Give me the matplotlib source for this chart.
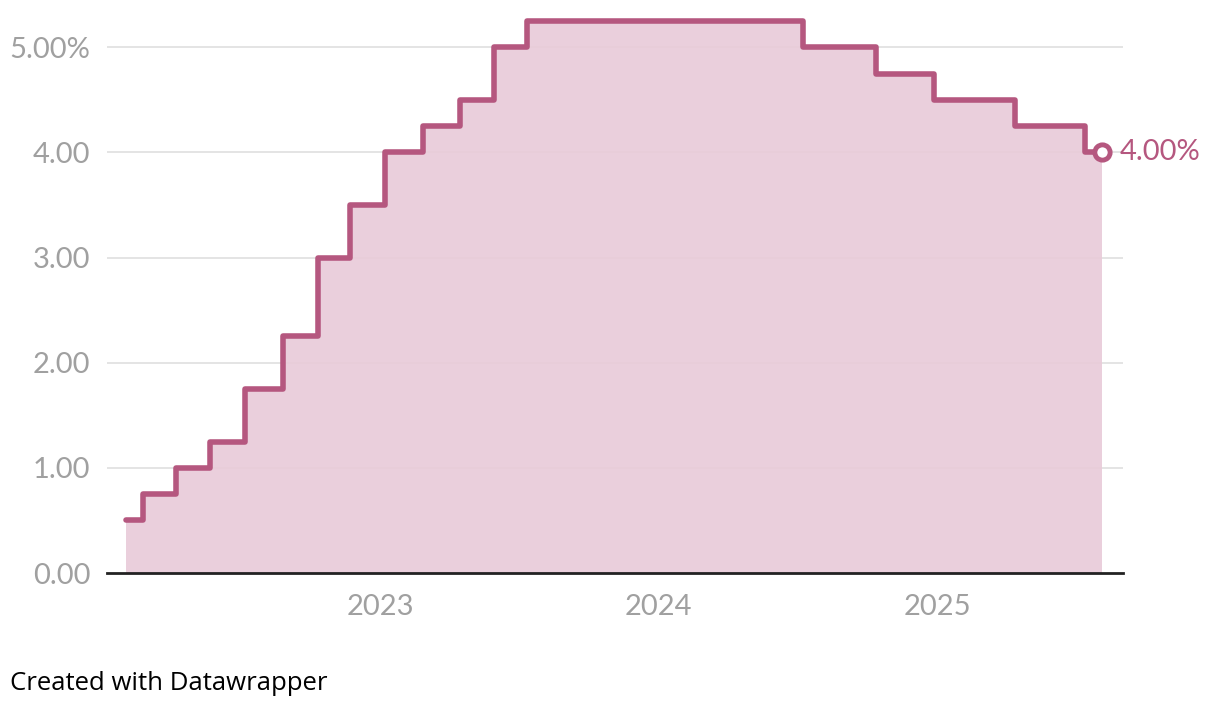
import numpy as np
import pandas as pd
import matplotlib
matplotlib.use("Agg")
import matplotlib.pyplot as plt
import matplotlib.dates as mdates

# rate changes (date the step starts, rate in %)
dates = ["2022-02-02", "2022-02-24", "2022-04-08", "2022-05-23", "2022-07-08",
         "2022-08-27", "2022-10-11", "2022-11-22", "2023-01-08", "2023-02-26",
         "2023-04-16", "2023-05-31", "2023-07-13", "2024-07-09", "2024-10-12",
         "2024-12-27", "2025-04-13", "2025-07-13", "2025-08-04"]
rates = [0.50, 0.75, 1.00, 1.25, 1.75, 2.25, 3.00, 3.50, 4.00, 4.25,
         4.50, 5.00, 5.25, 5.00, 4.75, 4.50, 4.25, 4.00, 4.00]
y_ticks = [0, 1, 2, 3, 4, 5]
y_labels = ["0.00", "1.00", "2.00", "3.00", "4.00", "5.00%"]
x_ticks = ["2023-01-01", "2024-01-01", "2025-01-01"]
x_labels = ["2023", "2024", "2025"]

x = pd.to_datetime(dates)
line_col = "#b5577f"
fill_col = "#e9cbd9"
grey = "#a0a0a0"

plt.rcParams["font.family"] = ["Lato", "DejaVu Sans"]

fig = plt.figure(figsize=(12.2, 7.1), dpi=100)
ax = fig.add_axes([107 / 1220, 1 - 573 / 710, (1123 - 107) / 1220, (573 - 20) / 710])

for t in y_ticks[1:]:
    ax.axhline(t, color="#e2e2e2", lw=1.3, zorder=1)

ax.fill_between(x, rates, 0, step="post", color=fill_col, alpha=0.92, lw=0, zorder=2)
ax.step(x, rates, where="post", color=line_col, lw=4, zorder=3, clip_on=False,
        solid_joinstyle="round", solid_capstyle="round")
ax.plot(x[-1], rates[-1], "o", ms=11, mfc="white", mec=line_col, mew=3.5, zorder=4)
ax.annotate(f"{rates[-1]:.2f}%", (x[-1], rates[-1]), xytext=(13, 0),
            textcoords="offset points", va="center", ha="left",
            color=line_col, fontsize=21)

# baseline
ax.axhline(0, color="#222222", lw=2.0, zorder=5, clip_on=False)

ax.set_xlim(pd.Timestamp("2022-01-08"), pd.Timestamp("2025-09-01"))
ax.set_ylim(0, 5.26)
ax.set_yticks(y_ticks)
ax.set_yticklabels(y_labels)
ax.set_xticks(pd.to_datetime(x_ticks))
ax.set_xticklabels(x_labels)
ax.tick_params(axis="both", length=0, colors=grey, labelsize=21)
ax.tick_params(axis="x", pad=15)
ax.tick_params(axis="y", pad=12)
for lab in ax.get_yticklabels():
    lab.set_horizontalalignment("right")
for s in ax.spines.values():
    s.set_visible(False)

fig.text(10 / 1220, 1 - 683 / 710, "Created with Datawrapper", fontsize=18.5,
         color="black", va="center", ha="left", family=["Open Sans", "DejaVu Sans"])

fig.savefig("out.png", dpi=100)
